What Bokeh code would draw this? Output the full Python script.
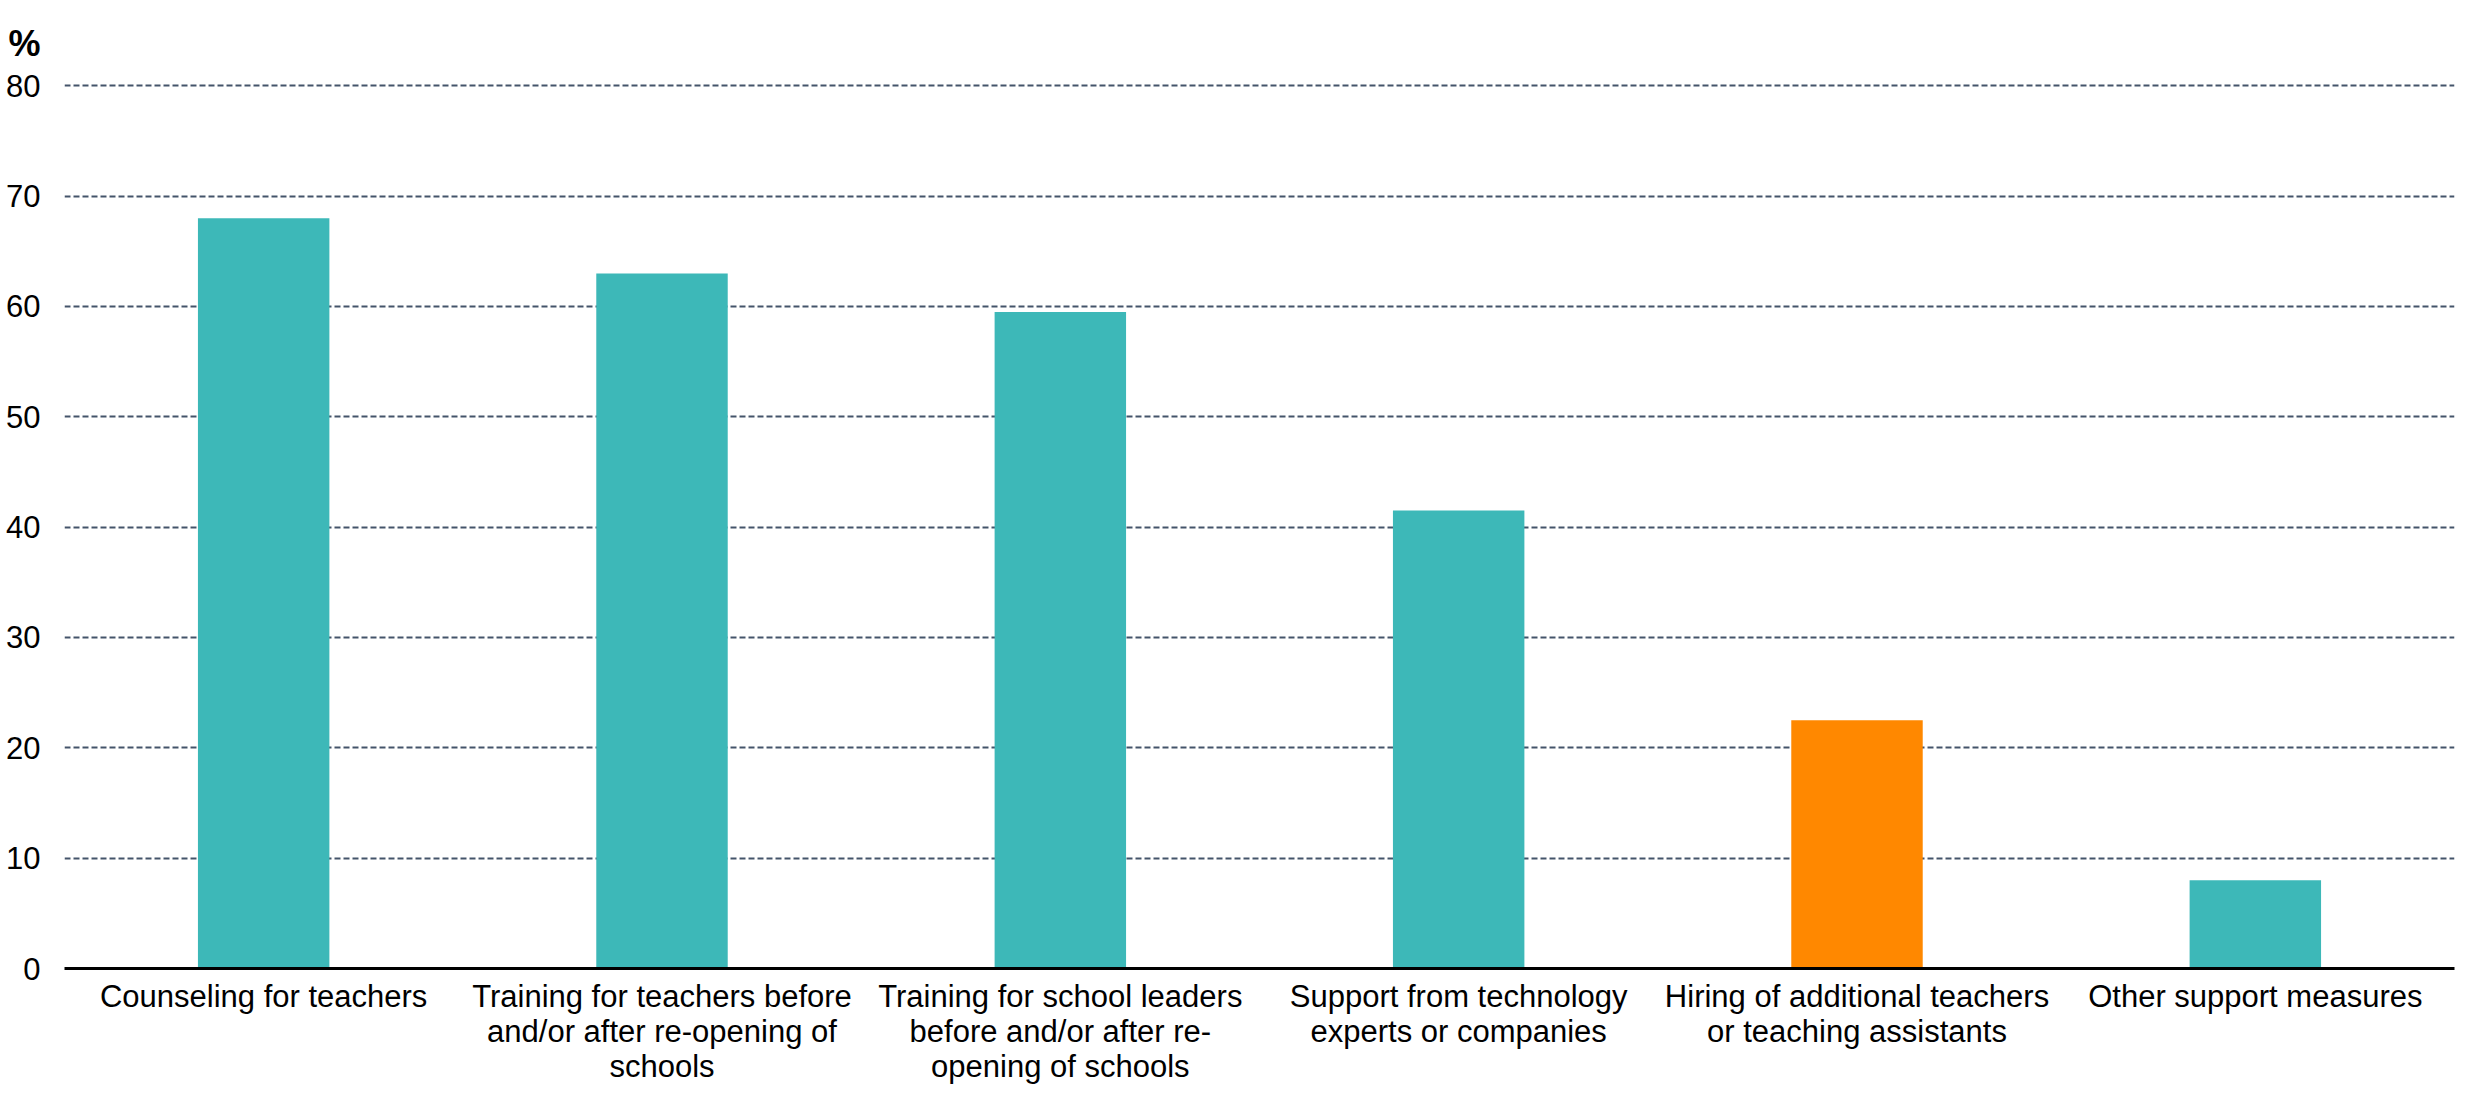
from bokeh.plotting import figure
from bokeh.models import Range1d, FactorRange, SingleIntervalTicker, ColumnDataSource
from bokeh.embed import file_html
from bokeh.resources import INLINE

categories = [
    "Counseling for teachers",
    "Training for teachers before\nand/or after re-opening of\nschools",
    "Training for school leaders\nbefore and/or after re-\nopening of schools",
    "Support from technology\nexperts or companies",
    "Hiring of additional teachers\nor teaching assistants",
    "Other support measures",
]
values = [68.0, 63.0, 59.5, 41.5, 22.5, 8.0]
bar_colors = ["#3DB8B8", "#3DB8B8", "#3DB8B8", "#3DB8B8", "#FF8800", "#3DB8B8"]
y_ticks_step = 10
y_max = 80
unit_label = "%"

FONT = "Liberation Sans"

src = ColumnDataSource(dict(cat=categories, val=values, col=bar_colors))

p = figure(
    width=2455, height=1087,
    x_range=FactorRange(*categories, range_padding=0),
    y_range=Range1d(0, y_max + 0.3),
    output_backend="svg", toolbar_location=None,
    min_border_left=64, min_border_right=1, min_border_top=82, min_border_bottom=112,
    title=unit_label,
)
p.x_range.factor_padding = 0
p.vbar(x="cat", top="val", width=0.33, fill_color="col", line_color=None, source=src)

p.outline_line_color = None
p.background_fill_color = "white"
p.border_fill_color = "white"

# "%" unit label at top-left (title)
p.title.text_font = FONT
p.title.text_font_size = "36px"
p.title.text_font_style = "bold"
p.title.text_color = "black"
p.title.align = "left"
p.title.offset = -56
p.title.standoff = 38

# grid
p.xgrid.grid_line_color = None
p.ygrid.grid_line_color = "#44546A"
p.ygrid.grid_line_dash = "6 3"
p.ygrid.grid_line_width = 1.8
p.yaxis.ticker = SingleIntervalTicker(interval=y_ticks_step)

# y axis
p.yaxis.axis_line_color = None
p.yaxis.major_tick_line_color = None
p.yaxis.minor_tick_line_color = None
p.yaxis.major_tick_out = 0
p.yaxis.minor_tick_out = 0
p.yaxis.major_label_text_font = FONT
p.yaxis.major_label_text_font_size = "31px"
p.yaxis.major_label_text_color = "black"
p.yaxis.major_label_standoff = 24

# x axis
p.xaxis.axis_line_color = "black"
p.xaxis.axis_line_width = 3
p.xaxis.major_tick_line_color = None
p.xaxis.minor_tick_line_color = None
p.xaxis.major_tick_out = 0
p.xaxis.minor_tick_out = 0
p.xaxis.major_label_text_font = FONT
p.xaxis.major_label_text_font_size = "31px"
p.xaxis.major_label_text_color = "black"
p.xaxis.major_label_standoff = 10
p.xaxis.major_label_text_line_height = 1.01

open("out.html", "w").write(file_html(p, INLINE))
